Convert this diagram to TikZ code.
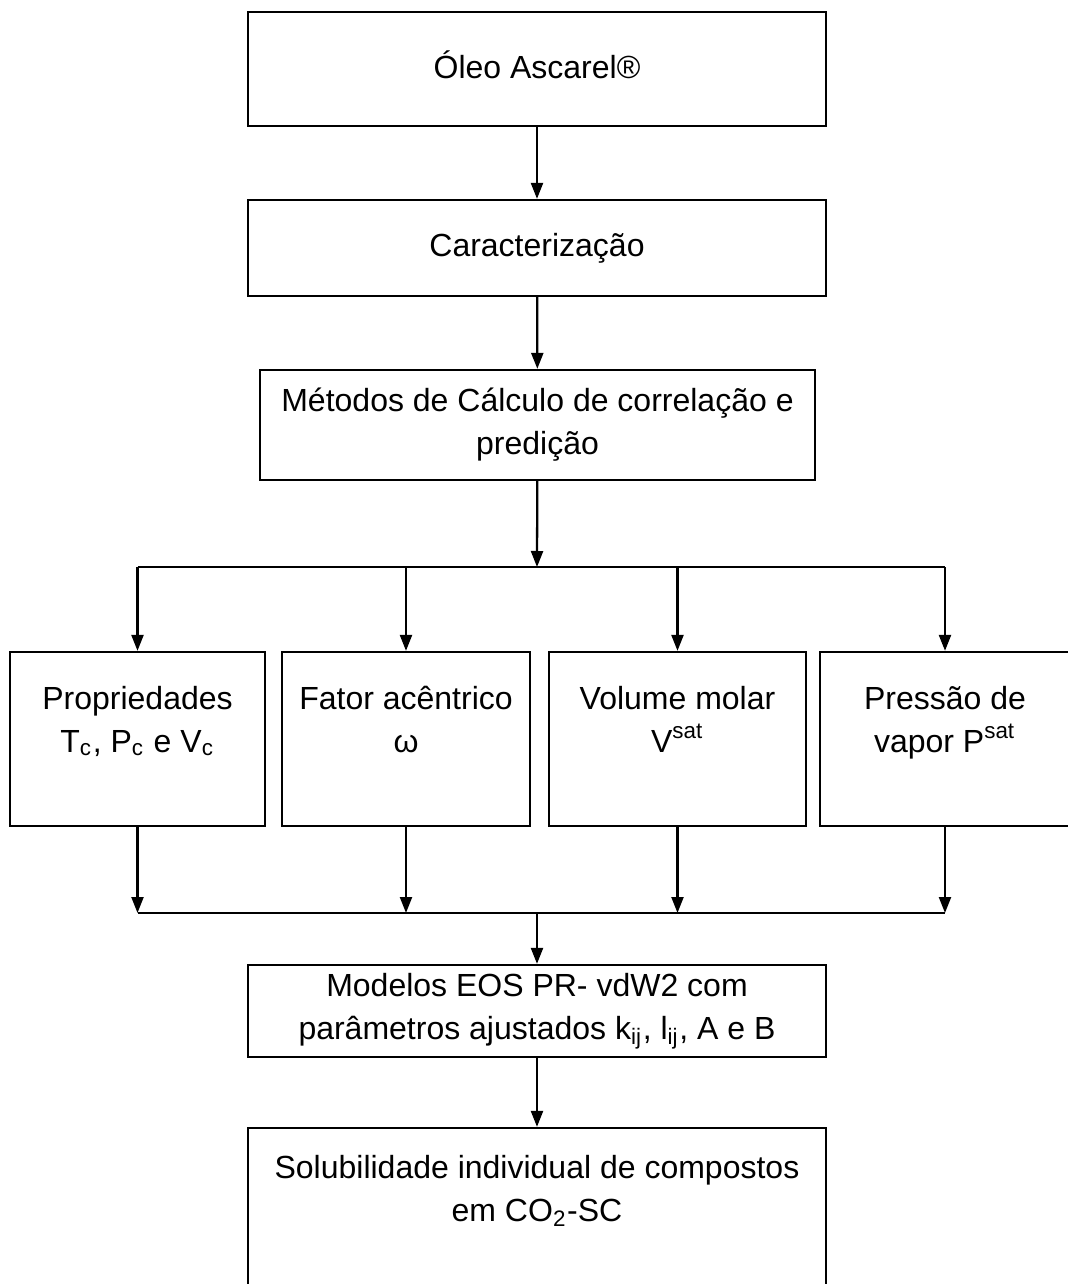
\documentclass[tikz,border=0pt]{standalone}
\usepackage{fontspec}
\setmainfont{Liberation Sans}
\usetikzlibrary{arrows.meta,positioning}

\begin{document}
\begin{tikzpicture}[
  x=0.01cm,y=-0.01cm,
  font=\fontsize{9.1}{12.2}\selectfont,
  >={Triangle[length=1.6mm,width=1.2mm]},
  box/.style={draw,line width=0.65pt,align=center,inner sep=0pt},
  wide/.style={box,minimum width=5.78cm},
  cell/.style={box,minimum height=1.74cm,text depth=0.40cm},
  flow/.style={->,line width=0.65pt},
  wire/.style={line width=0.65pt},
]
\clip (0,0) rectangle (1068,1284);
% main column
\node[wide,minimum height=1.14cm,text depth=0.08cm] (oleo) at (537,69) {Óleo Ascarel®};
\node[wide,minimum height=0.96cm] (carac) at (537,248) {Caracterização};
\node[box,minimum width=5.55cm,minimum height=1.10cm] (metodos) at (537.5,425) {Métodos de Cálculo de correlação e\\predição};
% properties
\node[cell,minimum width=2.55cm] (props) at (137.5,739) {Propriedades\\T\textsubscript{c}, P\textsubscript{c} e V\textsubscript{c}};
\node[cell,minimum width=2.48cm] (fator) at (406,739) {Fator acêntrico\\ω};
\node[cell,minimum width=2.57cm] (volume) at (677.5,739) {Volume molar\\V\textsuperscript{sat}};
\node[cell,minimum width=2.50cm] (pvap) at (945,739) {Pressão de\\vapor P\textsuperscript{sat}};
% models and result
\node[wide,minimum height=0.92cm] (modelos) at (537,1011) {Modelos EOS PR- vdW2 com\\parâmetros ajustados k\textsubscript{ij}, l\textsubscript{ij}, A e B};
\node[wide,minimum height=1.64cm,text depth=0.43cm] (solub) at (537,1210) {Solubilidade individual de compostos\\em CO\textsubscript{2}-SC};
% split and join points
\coordinate (split) at (537,567);
\coordinate (join) at (537,913);
% flows
\draw[flow] (oleo) -- (carac);
\draw[flow] (carac) -- (metodos);
\draw[flow] (metodos) -- (split);
\draw[wire] (props.north |- split) -- (pvap.north |- split);
\foreach \b in {props,fator,volume,pvap}
  \draw[flow] (\b.north |- split) -- (\b.north);
\foreach \b in {props,fator,volume,pvap}
  \draw[flow] (\b.south) -- (\b.south |- join);
\draw[wire] (props.south |- join) -- (pvap.south |- join);
\draw[flow] (join) -- (modelos);
\draw[flow] (modelos) -- (solub);
\end{tikzpicture}
\end{document}
